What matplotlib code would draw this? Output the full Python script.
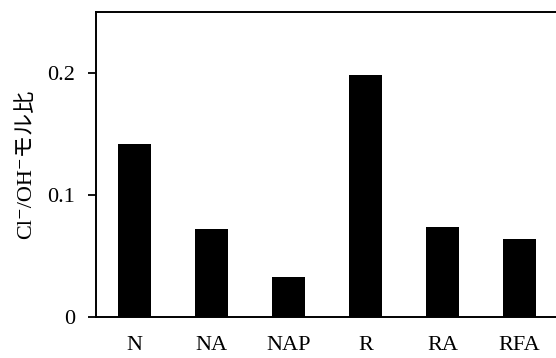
import matplotlib
matplotlib.use("Agg")
import matplotlib.pyplot as plt

categories = ["N", "NA", "NAP", "R", "RA", "RFA"]
ratios = [0.142, 0.072, 0.033, 0.198, 0.074, 0.064]
yticks = [0, 0.1, 0.2]
ytick_labels = ["0", "0.1", "0.2"]

fonts = ["Liberation Serif", "DejaVu Serif", "Noto Sans CJK JP"]
plt.rcParams["font.family"] = fonts

fig = plt.figure(figsize=(5.56, 3.58), dpi=100)
ax = fig.add_axes([96 / 556, 41 / 358, 462 / 556, 305 / 358])

ax.bar(range(len(categories)), ratios, width=0.43, color="black")
ax.set_xlim(-0.5, len(categories) - 0.5)
ax.set_ylim(0, 0.25)
ax.set_xticks(range(len(categories)))
ax.set_xticklabels(categories, fontsize=16)
ax.set_yticks(yticks)
ax.set_yticklabels(ytick_labels, fontsize=16)
ax.tick_params(axis="x", length=0, pad=14)
ax.tick_params(axis="y", length=6, width=1.3, pad=9)

ax.spines["right"].set_visible(False)
for side in ["left", "top", "bottom"]:
    ax.spines[side].set_linewidth(1.4)

ax.set_ylabel("Cl⁻/OH⁻モル比", fontsize=16, labelpad=8, family=fonts)

fig.savefig("out.png", dpi=100)
